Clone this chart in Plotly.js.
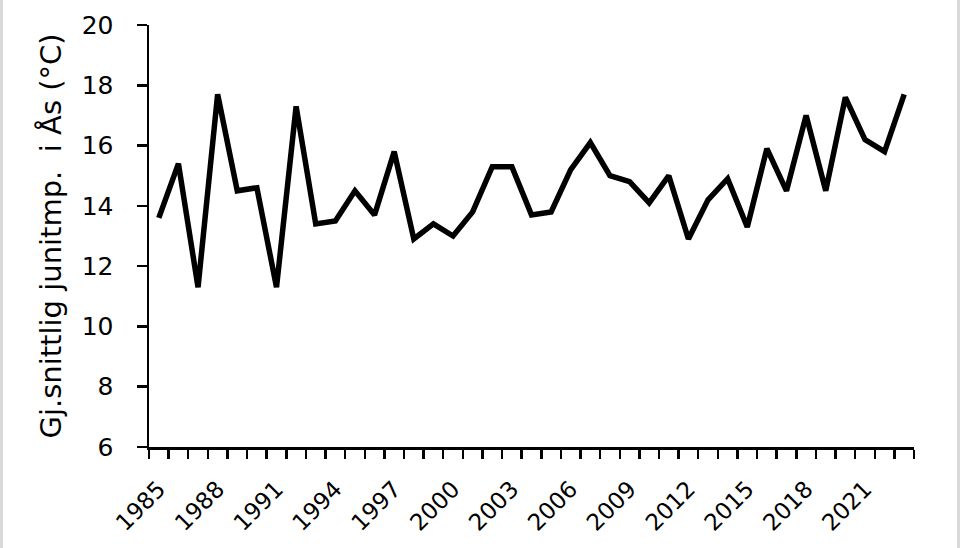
<!DOCTYPE html>
<html>
<head>
<meta charset="utf-8">
<script src="https://cdn.plot.ly/plotly-3.0.1.min.js"></script>
<style>
  html, body { margin: 0; padding: 0; background: #fff; }
  #chart { width: 960px; height: 548px; position: absolute; left: 0; top: 0; }
  #edgeL { position: absolute; left: 0; top: 0; width: 3px; height: 548px; background: #d9d9d9; }
  #edgeR { position: absolute; left: 957px; top: 0; width: 3px; height: 548px; background: #d9d9d9; }
</style>
</head>
<body>
<div id="chart"></div>
<div id="edgeL"></div>
<div id="edgeR"></div>
<script>
const years = [1985,1986,1987,1988,1989,1990,1991,1992,1993,1994,1995,1996,1997,1998,1999,
  2000,2001,2002,2003,2004,2005,2006,2007,2008,2009,2010,2011,2012,2013,2014,2015,2016,
  2017,2018,2019,2020,2021,2022,2023];
const juneTemp = [13.6,15.4,11.3,17.7,14.5,14.6,11.3,17.3,13.4,13.5,14.5,13.7,15.8,12.9,13.4,
  13.0,13.8,15.3,15.3,13.7,13.8,15.2,16.1,15.0,14.8,14.1,15.0,12.9,14.2,14.9,13.3,15.9,
  14.5,17.0,14.5,17.6,16.2,15.8,17.7];
const xTickYears = [1985,1988,1991,1994,1997,2000,2003,2006,2009,2012,2015,2018,2021];
const yTicks = [6,8,10,12,14,16,18,20];
const yTitle = "Gj.snittlig junitmp.  i Ås (°C)";

const FONT = '"DejaVu Sans", "Open Sans", sans-serif';

const trace = {
  x: years, y: juneTemp, type: 'scatter', mode: 'lines',
  line: { color: '#000', width: 5.5, shape: 'linear' },
  hoverinfo: 'skip'
};

const layout = {
  width: 960, height: 548,
  margin: { l: 149, r: 46, t: 25, b: 101 },
  paper_bgcolor: '#fff', plot_bgcolor: '#fff',
  showlegend: false,
  xaxis: {
    range: [years[0] - 0.5, years[years.length - 1] + 0.5],
    tickmode: 'array', tickvals: xTickYears, ticktext: xTickYears.map(String),
    ticks: 'outside', ticklen: 11, tickcolor: 'rgba(0,0,0,0)', tickangle: -45,
    ticklabelstandoff: 6,
    tickfont: { family: FONT, size: 23, color: '#000' },
    showgrid: false, zeroline: false,
    showline: true, linecolor: '#000', linewidth: 2.5,
    minor: { tick0: years[0] - 0.5, dtick: 1, ticks: 'outside', ticklen: 9, tickwidth: 2.5, tickcolor: '#000', showgrid: false },
    fixedrange: true
  },
  yaxis: {
    range: [6, 20],
    tickmode: 'array', tickvals: yTicks, ticktext: yTicks.map(String),
    ticks: 'outside', ticklen: 10, tickwidth: 2.5, tickcolor: '#000',
    ticklabelstandoff: 18,
    tickfont: { family: FONT, size: 25, color: '#000' },
    showgrid: false, zeroline: false,
    showline: true, linecolor: '#000', linewidth: 2.5,
    title: { text: yTitle, standoff: 12, font: { family: FONT, size: 29, color: '#000' } },
    fixedrange: true
  }
};

Plotly.newPlot('chart', [trace], layout, { displayModeBar: false, staticPlot: true });
</script>
</body>
</html>
